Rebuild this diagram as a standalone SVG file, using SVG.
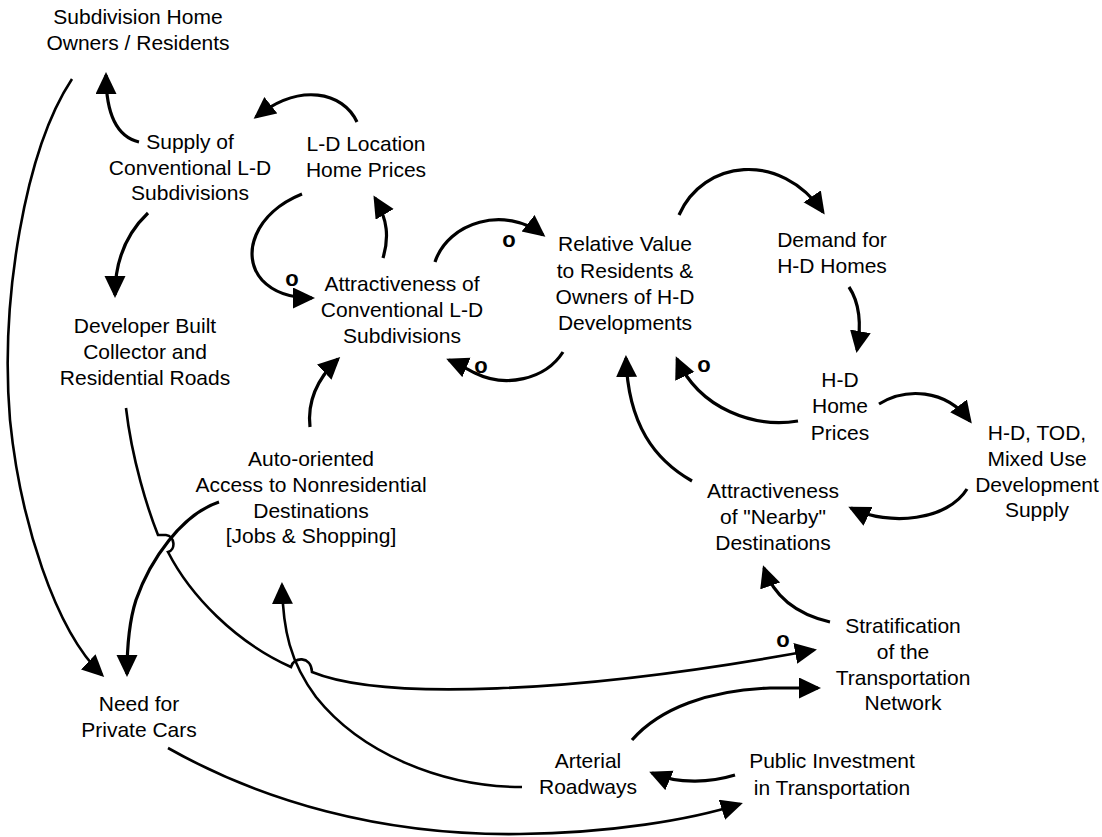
<svg xmlns="http://www.w3.org/2000/svg" width="1102" height="837" viewBox="0 0 1102 837">
<style>
  .n text { font-family: "Liberation Sans", Arial, sans-serif; font-size: 21px; fill: #000; text-anchor: middle; }
  .c path { fill: none; stroke: #000; stroke-width: 3.2; stroke-linecap: butt; }
  .c path.thin { stroke-width: 2.6; }
  .o { font-family: "Liberation Sans", Arial, sans-serif; font-size: 22px; font-weight: bold; fill: #000; text-anchor: middle; }
</style>
<defs>
  <marker id="ah" markerUnits="userSpaceOnUse" markerWidth="24" markerHeight="24" viewBox="0 0 24 24" refX="19" refY="10.5" orient="auto">
    <path d="M0,0 L22,10.5 L0,21 z" fill="#000"/>
  </marker>
</defs>
<rect width="1102" height="837" fill="#fff"/>

<g id="connectors" class="c">
  <!-- Supply -> Subdivision Home Owners -->
  <path d="M139,142 C118,137 106,115 106,75" marker-end="url(#ah)"/>
  <!-- L-D Location Home Prices -> Supply -->
  <path d="M357,122 C343,92 300,82 256,117" marker-end="url(#ah)"/>
  <!-- Supply -> Developer Built -->
  <path d="M148,213 C128,232 115,258 115,295" marker-end="url(#ah)"/>
  <!-- L-D Location Home Prices -> Attractiveness Conventional (o) -->
  <path d="M302,194 C255,213 240,255 262,280 C275,294 292,298 312,298" marker-end="url(#ah)"/>
  <!-- Attractiveness Conventional -> L-D Location Home Prices -->
  <path d="M383,258 C389,238 388,220 375,198" marker-end="url(#ah)"/>
  <!-- Attractiveness Conventional -> Relative Value (o) -->
  <path d="M435,262 C448,222 505,205 543,235" marker-end="url(#ah)"/>
  <!-- Relative Value -> Attractiveness Conventional (o) -->
  <path d="M563,352 C545,380 505,388 475,373 C465,368 456,363 449,360" marker-end="url(#ah)"/>
  <!-- Relative Value -> Demand for H-D Homes -->
  <path d="M679,215 C703,160 780,150 823,212" marker-end="url(#ah)"/>
  <!-- Demand -> H-D Home Prices -->
  <path d="M849,287 C861,305 861,328 857,350" marker-end="url(#ah)"/>
  <!-- H-D Home Prices -> Relative Value (o) -->
  <path d="M798,421 C755,428 700,410 677,359" marker-end="url(#ah)"/>
  <!-- H-D Home Prices -> H-D TOD -->
  <path d="M879,404 C905,388 945,388 970,421" marker-end="url(#ah)"/>
  <!-- H-D TOD -> Nearby -->
  <path d="M967,489 C948,520 890,527 851,508" marker-end="url(#ah)"/>
  <!-- Nearby -> Relative Value -->
  <path d="M692,481 C655,460 628,425 626,358" marker-end="url(#ah)"/>
  <!-- Stratification -> Nearby -->
  <path d="M830,622 C800,615 775,600 764,568" marker-end="url(#ah)"/>
  <!-- Auto-oriented -> Attractiveness Conventional -->
  <path d="M310,427 C307,400 318,378 338,359" marker-end="url(#ah)"/>
  <!-- Subdivision Home Owners -> Need for Private Cars -->
  <path class="thin" d="M72,79 C25,150 0,300 10,420 C20,520 55,630 102,675" marker-end="url(#ah)"/>
  <!-- Auto-oriented -> Need for Private Cars -->
  <path d="M219,502 C182,514 150,560 136,600 C128,625 127,650 127,674" marker-end="url(#ah)"/>
  <!-- Developer Built -> Stratification (o), with hops -->
  <path class="thin" d="M126,408 C132,460 148,510 158,535 L166,535 C175,536 176,550 168,552 C190,595 235,642 291,667 C293,657 311,655 312,672 C380,700 570,695 814,650" marker-end="url(#ah)"/>
  <!-- Arterial -> Auto-oriented -->
  <path class="thin" d="M522,787 C440,787 360,752 316,697 C290,662 283,630 282,585" marker-end="url(#ah)"/>
  <!-- Arterial -> Stratification -->
  <path d="M632,740 C660,708 710,690 770,688 L818,688" marker-end="url(#ah)"/>
  <!-- Public Investment -> Arterial -->
  <path d="M735,775 C712,782 680,785 652,773" marker-end="url(#ah)"/>
  <!-- Need for Private Cars -> Public Investment -->
  <path class="thin" d="M168,748 C260,800 380,836 520,834 C610,833 690,820 740,804" marker-end="url(#ah)"/>
</g>

<g id="polarity">
  <text class="o" x="292" y="286">o</text>
  <text class="o" x="509" y="247">o</text>
  <text class="o" x="481" y="373">o</text>
  <text class="o" x="704" y="372">o</text>
  <text class="o" x="783" y="647">o</text>
</g>

<g id="n-subdivision-owners" class="n">
  <text x="138" y="24">Subdivision Home</text>
  <text x="138" y="50">Owners / Residents</text>
</g>
<g id="n-supply" class="n">
  <text x="190" y="149">Supply of</text>
  <text x="190" y="175">Conventional L-D</text>
  <text x="190" y="200">Subdivisions</text>
</g>
<g id="n-ld-prices" class="n">
  <text x="366" y="151">L-D Location</text>
  <text x="366" y="177">Home Prices</text>
</g>
<g id="n-attr-conv" class="n">
  <text x="402" y="291">Attractiveness of</text>
  <text x="402" y="317">Conventional L-D</text>
  <text x="402" y="343">Subdivisions</text>
</g>
<g id="n-relative-value" class="n">
  <text x="625" y="251">Relative Value</text>
  <text x="625" y="278">to Residents &amp;</text>
  <text x="625" y="304">Owners of H-D</text>
  <text x="625" y="330">Developments</text>
</g>
<g id="n-demand" class="n">
  <text x="832" y="247">Demand for</text>
  <text x="832" y="273">H-D Homes</text>
</g>
<g id="n-hd-prices" class="n">
  <text x="840" y="387">H-D</text>
  <text x="840" y="413">Home</text>
  <text x="840" y="440">Prices</text>
</g>
<g id="n-hd-tod" class="n">
  <text x="1037" y="440">H-D, TOD,</text>
  <text x="1037" y="466">Mixed Use</text>
  <text x="1037" y="492">Development</text>
  <text x="1037" y="517">Supply</text>
</g>
<g id="n-nearby" class="n">
  <text x="773" y="498">Attractiveness</text>
  <text x="773" y="524">of "Nearby"</text>
  <text x="773" y="550">Destinations</text>
</g>
<g id="n-stratification" class="n">
  <text x="903" y="633">Stratification</text>
  <text x="903" y="659">of the</text>
  <text x="903" y="685">Transportation</text>
  <text x="903" y="710">Network</text>
</g>
<g id="n-public-investment" class="n">
  <text x="832" y="768">Public Investment</text>
  <text x="832" y="795">in Transportation</text>
</g>
<g id="n-arterial" class="n">
  <text x="588" y="768">Arterial</text>
  <text x="588" y="794">Roadways</text>
</g>
<g id="n-need-cars" class="n">
  <text x="139" y="711">Need for</text>
  <text x="139" y="737">Private Cars</text>
</g>
<g id="n-developer" class="n">
  <text x="145" y="333">Developer Built</text>
  <text x="145" y="359">Collector and</text>
  <text x="145" y="385">Residential Roads</text>
</g>
<g id="n-auto-oriented" class="n">
  <text x="311" y="466">Auto-oriented</text>
  <text x="311" y="492">Access to Nonresidential</text>
  <text x="311" y="518">Destinations</text>
  <text x="311" y="543">[Jobs &amp; Shopping]</text>
</g>
</svg>
